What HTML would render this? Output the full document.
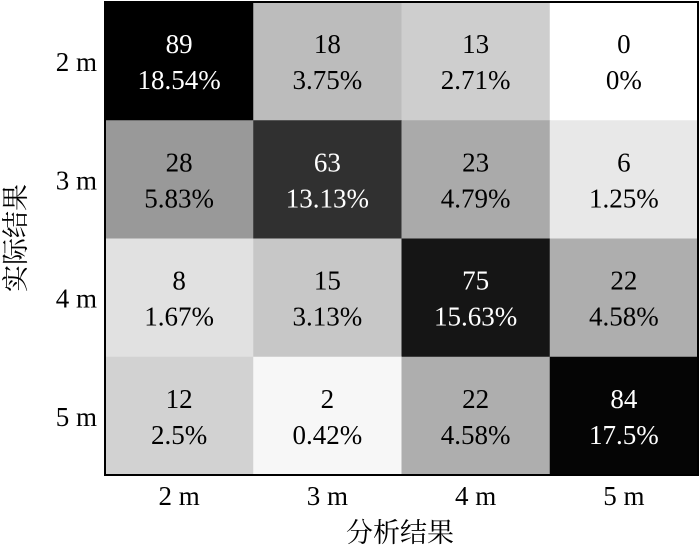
<!DOCTYPE html>
<html><head><meta charset="utf-8"><style>
html,body{margin:0;padding:0;background:#fff;}
svg text{font-family:"Liberation Serif","Noto Serif CJK SC",serif;}
</style></head><body>
<svg id="chart" width="700" height="546" xmlns="http://www.w3.org/2000/svg"></svg>
<script>
const xCategories = ["2 m","3 m","4 m","5 m"];
const yCategories = ["2 m","3 m","4 m","5 m"];
const counts = [
  [89,18,13,0],
  [28,63,23,6],
  [8,15,75,22],
  [12,2,22,84]
];
const percents = [
  ["18.54%","3.75%","2.71%","0%"],
  ["5.83%","13.13%","4.79%","1.25%"],
  ["1.67%","3.13%","15.63%","4.58%"],
  ["2.5%","0.42%","4.58%","17.5%"]
];
const NS="http://www.w3.org/2000/svg";
const svg=document.getElementById('chart');
const L=105,R=698,T=2,B=475;
const cw=(R-L)/xCategories.length, ch=(B-T)/yCategories.length;
const xPos=i=>L+i*cw, yPos=j=>T+j*ch;
const maxV=Math.max(...counts.flat());
function gray(v){const t=1-v/maxV;const g=Math.round(255*Math.pow(t,1.35));return `rgb(${g},${g},${g})`;}
function mk(tag,attrs){const e=document.createElementNS(NS,tag);for(const k in attrs)e.setAttribute(k,attrs[k]);svg.appendChild(e);return e;}
counts.forEach((row,j)=>row.forEach((v,i)=>{
  const r=mk('rect',{x:xPos(i),y:yPos(j),width:cw+0.5,height:ch+0.5,fill:gray(v)});
  
  
  const col=v>maxV*0.55?'#fff':'#000';
  const t1=mk('text',{x:xPos(i)+cw/2,y:yPos(j)+ch/2-8,'text-anchor':'middle','font-size':27,fill:col});
  t1.textContent=v;
  
  
  const t2=mk('text',{x:xPos(i)+cw/2,y:yPos(j)+ch/2+28,'text-anchor':'middle','font-size':27,fill:col});
  t2.textContent=percents[j][i];
  
  
}));
const fr=mk('rect',{x:L,y:T,width:R-L,height:B-T,fill:'none',stroke:'#000','stroke-width':2});


xCategories.forEach((c,i)=>{
  const t=mk('text',{x:xPos(i)+cw/2,y:505,'text-anchor':'middle','font-size':27});
  t.textContent=c;
  
  
});
yCategories.forEach((c,j)=>{
  const t=mk('text',{x:97,y:yPos(j)+ch/2+10,'text-anchor':'end','font-size':27});
  t.textContent=c;
  
  
});
const xt=mk('text',{x:400,y:542,'text-anchor':'middle','font-size':27});
xt.textContent='分析结果';


const yt=mk('text',{x:0,y:0,'text-anchor':'middle','font-size':27,transform:'translate(25,238) rotate(-90)'});
yt.textContent='实际结果';


</script>
</body></html>
